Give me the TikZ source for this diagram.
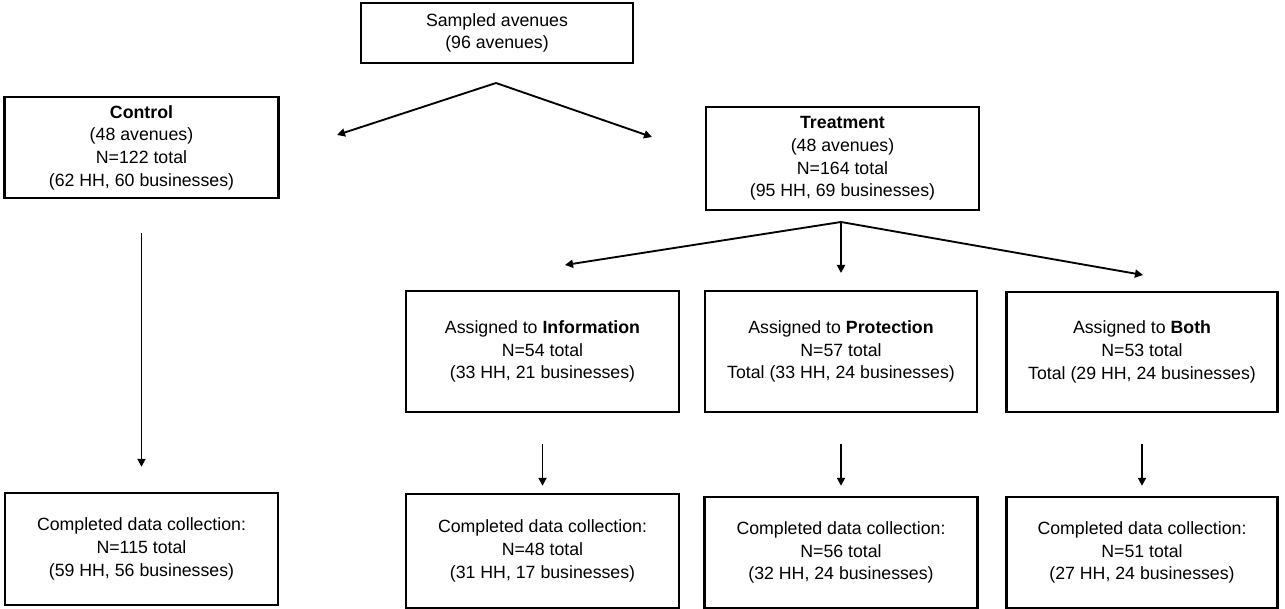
\documentclass[tikz,border=0pt]{standalone}
\usepackage{fontspec}
\setmainfont{Liberation Sans}
\usetikzlibrary{arrows.meta}

\begin{document}
\begin{tikzpicture}[x = 0.75pt, y = -0.75pt,
		box/.style = {draw, line width = 1.8pt, align = center, inner sep = 0pt,
			font = \fontsize{13.3}{17}\selectfont},
		arr/.style = {line width = 1.4pt, -{Triangle[length = 6pt, width = 6pt]}}]
		\useasboundingbox (0,0) rectangle (1285,609);
		
		\node[box, minimum width = 204pt, minimum height = 45pt] (sampled) at (497,33) {Sampled avenues\\(96 avenues)};
		\node[box, minimum width = 205.5pt, minimum height = 75.75pt] (control) at (141.5,147.5) {\textbf{Control}\\(48 avenues)\\N=122 total\\(62 HH, 60 businesses)};
		\node[box, minimum width = 204.75pt, minimum height = 77.25pt] (treat) at (842.5,158.5) {\textbf{Treatment}\\(48 avenues)\\N=164 total\\(95 HH, 69 businesses)};
		
		\node[box, minimum width = 204.75pt, minimum height = 90.75pt] (info) at (542.5,351.5) {Assigned to \textbf{Information}\\N=54 total\\(33 HH, 21 businesses)};
		\node[box, minimum width = 204pt, minimum height = 90.75pt] (prot) at (841,351.5) {Assigned to \textbf{Protection}\\N=57 total\\Total (33 HH, 24 businesses)};
		\node[box, minimum width = 203.25pt, minimum height = 90pt] (both) at (1142,352) {Assigned to \textbf{Both}\\N=53 total\\Total (29 HH, 24 businesses)};
		
		\node[box, minimum width = 204.75pt, minimum height = 84pt] (cdone) at (141.5,549) {Completed data collection:\\N=115 total\\(59 HH, 56 businesses)};
		\node[box, minimum width = 204.75pt, minimum height = 85.5pt] (idone) at (542.5,551) {Completed data collection:\\N=48 total\\(31 HH, 17 businesses)};
		\node[box, minimum width = 204.75pt, minimum height = 83.25pt] (pdone) at (841,552.5) {Completed data collection:\\N=56 total\\(32 HH, 24 businesses)};
		\node[box, minimum width = 203.25pt, minimum height = 83.25pt] (bdone) at (1142,552.5) {Completed data collection:\\N=51 total\\(27 HH, 24 businesses)};
		
		% split points and free arrow ends
		\coordinate (split1) at (496,83);
		\coordinate (ctlin) at (337,135);
		\coordinate (trtin) at (652,137);
		\coordinate (split2) at (841,222);
		\coordinate (infoin) at (565,265);
		\coordinate (protin) at (841,273);
		\coordinate (bothin) at (1143,275);
		
		\draw[arr] (split1) -- (ctlin);
		\draw[arr] (split1) -- (trtin);
		\draw[arr] (split2) -- (infoin);
		\draw[arr] (split2) -- (protin);
		\draw[arr] (split2) -- (bothin);
		
		\draw[arr] ([yshift = -25.5pt]control.south) -- ([yshift = 18.75pt]cdone.north);
		\draw[arr] ([yshift = -23.25pt]info.south) -- ([yshift = 5.25pt]idone.north);
		\draw[arr] ([yshift = -23.25pt]prot.south) -- ([yshift = 7.5pt]pdone.north);
		\draw[arr] ([yshift = -23.25pt]both.south) -- ([yshift = 7.5pt]bdone.north);
	\end{tikzpicture}
\end{document}
